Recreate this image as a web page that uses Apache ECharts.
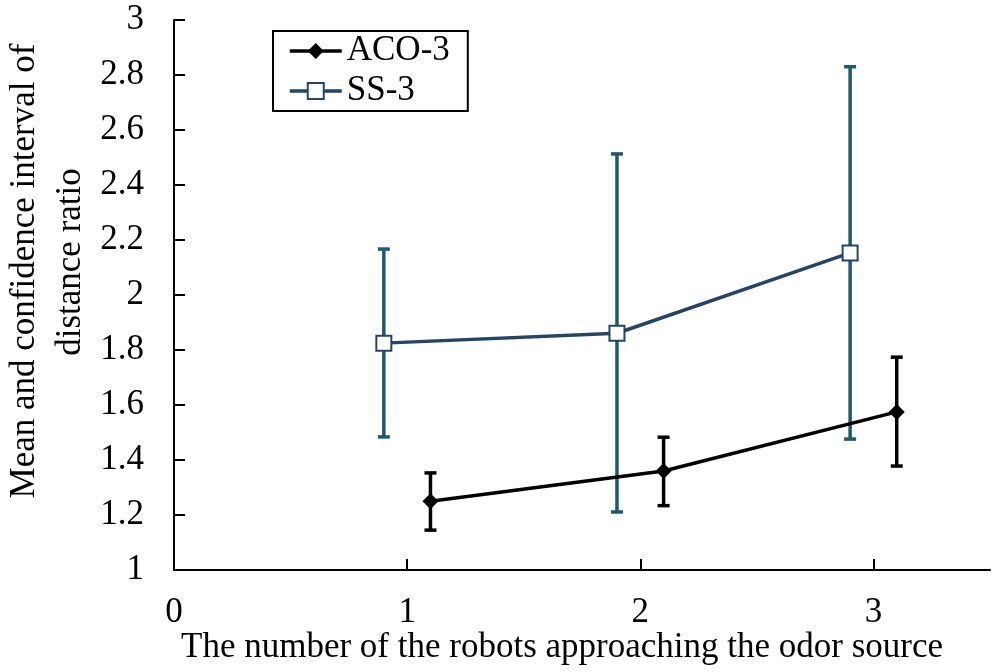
<!DOCTYPE html>
<html><head><meta charset="utf-8">
<script src="https://cdn.jsdelivr.net/npm/echarts@6/dist/echarts.min.js"></script>
<style>html,body{margin:0;padding:0;background:#fff}#c{width:1000px;height:672px}</style>
</head><body><div id="c"></div>
<script>
const seriesNames = ['ACO-3', 'SS-3'];
const acoX = [1.1, 2.1, 3.1];
const acoMean = [1.25, 1.36, 1.575];
const acoLow = [1.145, 1.234, 1.378];
const acoHigh = [1.353, 1.483, 1.774];
const ssX = [0.9, 1.9, 2.9];
const ssMean = [1.825, 1.861, 2.153];
const ssLow = [1.484, 1.211, 1.476];
const ssHigh = [2.167, 2.513, 2.83];
const xTicks = [0, 1, 2, 3];
const xTitle = 'The number of the robots approaching the odor source';
const yTitle1 = 'Mean and confidence interval of';
const yTitle2 = 'distance ratio';

const FONT = '"Liberation Serif", "Times New Roman", serif';
const ACO_COLOR = '#000000';
const SS_LINE = '#264466';
const SS_ERR = '#1f5a6b';

function errSeries(xs, lo, hi, color, z) {
  return {
    type: 'custom', z: z, silent: true,
    data: xs.map((x, i) => [x, lo[i], hi[i]]),
    renderItem: function (params, api) {
      const x = api.value(0);
      const pLo = api.coord([x, api.value(1)]);
      const pHi = api.coord([x, api.value(2)]);
      const cw = 6;
      const st = {stroke: color, lineWidth: 3.5};
      return {type: 'group', children: [
        {type: 'line', shape: {x1: pLo[0], y1: pLo[1], x2: pHi[0], y2: pHi[1]}, style: st},
        {type: 'line', shape: {x1: pLo[0]-cw, y1: pLo[1], x2: pLo[0]+cw, y2: pLo[1]}, style: st},
        {type: 'line', shape: {x1: pHi[0]-cw, y1: pHi[1], x2: pHi[0]+cw, y2: pHi[1]}, style: st}
      ]};
    }
  };
}

const chart = echarts.init(document.getElementById('c'), null, {renderer: 'canvas'});
chart.setOption({
  animation: false,
  backgroundColor: '#fff',
  grid: {left: 174, right: 10, top: 20, bottom: 102, containLabel: false},
  xAxis: {
    type: 'value', min: 0, max: 3.5, interval: 1,
    axisLine: {lineStyle: {color: '#000', width: 2}},
    axisTick: {inside: true, length: 11, lineStyle: {color: '#000', width: 2}, customValues: xTicks},
    axisLabel: {customValues: xTicks, margin: 25, color: '#000', fontFamily: FONT, fontSize: 35},
    splitLine: {show: false}
  },
  yAxis: {
    type: 'value', min: 1, max: 3, interval: 0.2,
    axisLine: {show: true, lineStyle: {color: '#000', width: 2}},
    axisTick: {show: true, inside: true, length: 11, lineStyle: {color: '#000', width: 2}},
    axisLabel: {margin: 30, color: '#000', fontFamily: FONT, fontSize: 35,
      formatter: v => String(Math.round(v * 10) / 10)},
    splitLine: {show: false}
  },
  legend: {
    orient: 'vertical', left: 273, top: 31,
    data: seriesNames,
    borderColor: '#000', borderWidth: 2,
    padding: [2, 18, 2, 15], itemGap: 4,
    itemWidth: 52, itemHeight: 20,
    lineStyle: {width: 3.5},
    textStyle: {fontFamily: FONT, fontSize: 35, lineHeight: 36, color: '#000'}
  },
  graphic: [
    {type: 'text', x: 562, y: 648,
      style: {text: xTitle, font: '35px ' + FONT, fill: '#000', align: 'center', verticalAlign: 'middle'}},
    {type: 'text', x: 25, y: 271, rotation: Math.PI / 2,
      style: {text: yTitle1, font: '35px ' + FONT, fill: '#000', align: 'center', verticalAlign: 'middle'}},
    {type: 'text', x: 71, y: 262, rotation: Math.PI / 2,
      style: {text: yTitle2, font: '35px ' + FONT, fill: '#000', align: 'center', verticalAlign: 'middle'}}
  ],
  series: [
    errSeries(ssX, ssLow, ssHigh, SS_ERR, 2),
    errSeries(acoX, acoLow, acoHigh, ACO_COLOR, 3),
    {
      name: 'ACO-3', type: 'line', z: 4,
      data: acoX.map((x, i) => [x, acoMean[i]]),
      symbol: 'diamond', symbolSize: 16,
      lineStyle: {color: ACO_COLOR, width: 3.5},
      itemStyle: {color: ACO_COLOR}
    },
    {
      name: 'SS-3', type: 'line', z: 5,
      data: ssX.map((x, i) => [x, ssMean[i]]),
      symbol: 'rect', symbolSize: 15,
      lineStyle: {color: SS_LINE, width: 3.5},
      itemStyle: {color: '#fff', borderColor: SS_LINE, borderWidth: 2}
    }
  ]
});
</script></body></html>
